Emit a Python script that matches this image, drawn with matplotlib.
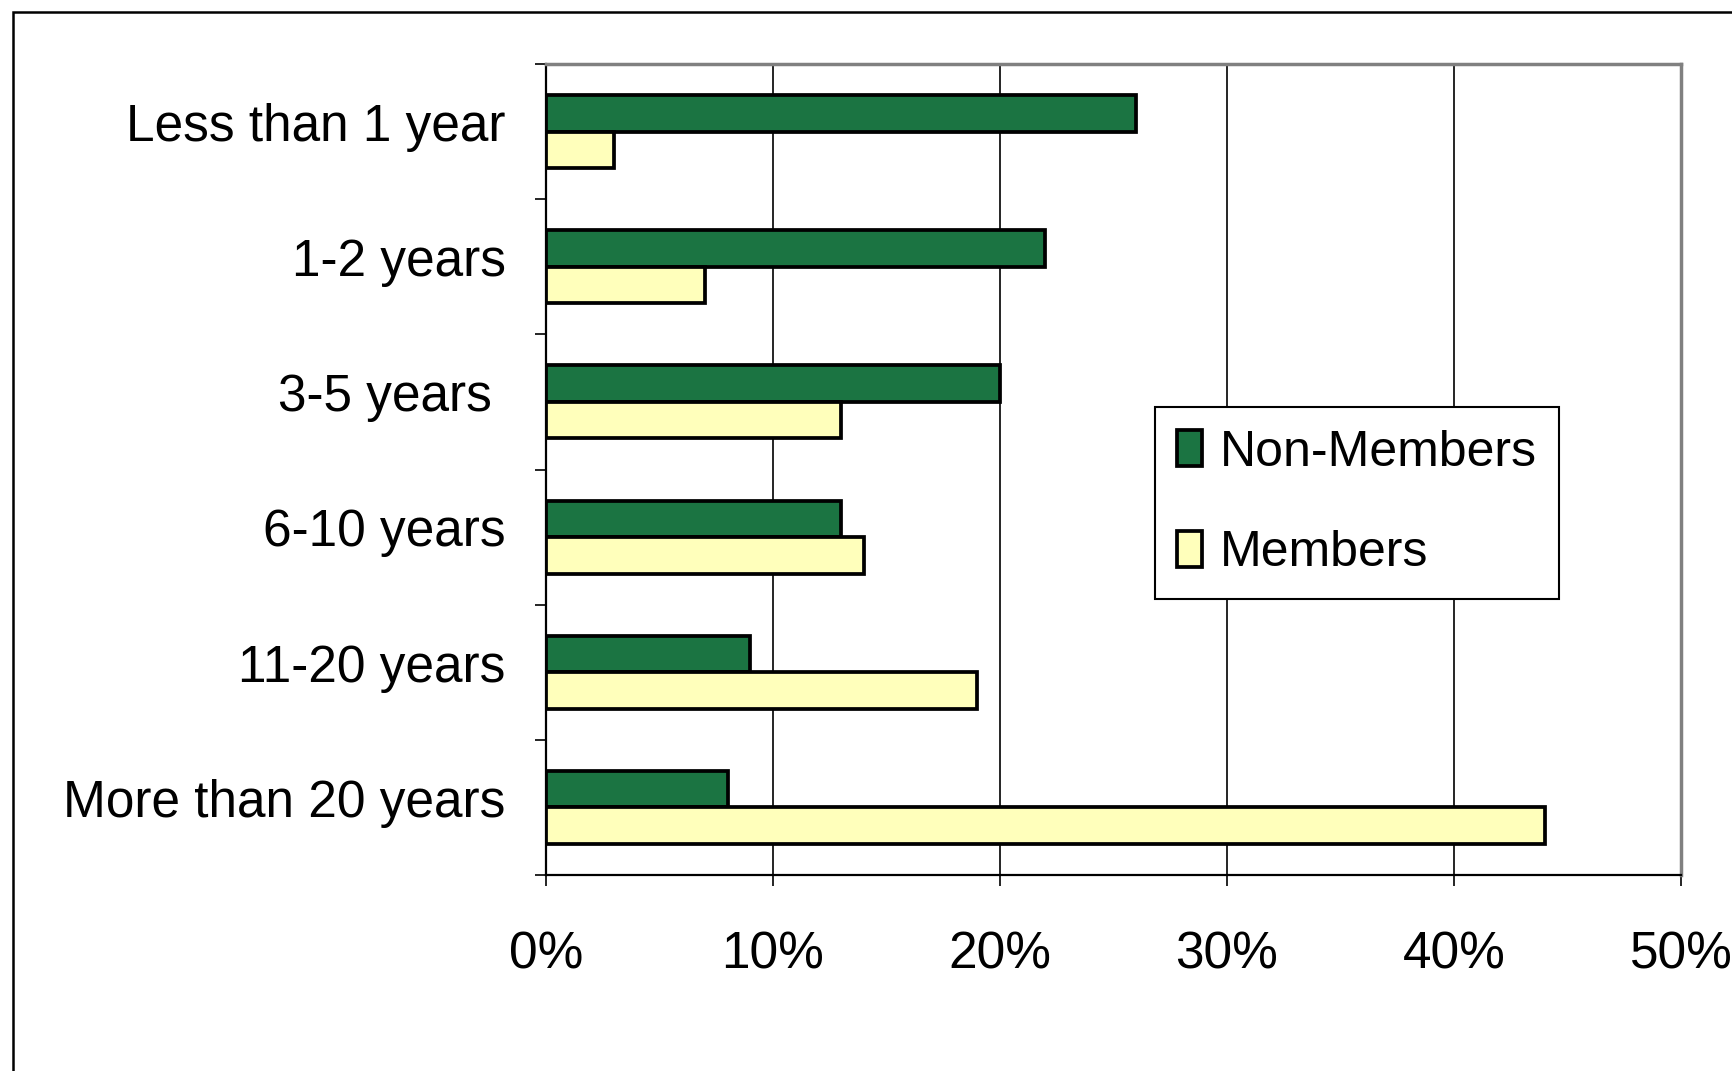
import matplotlib
matplotlib.use("Agg")
import matplotlib.pyplot as plt
from matplotlib.patches import Rectangle
from matplotlib.ticker import FixedLocator, PercentFormatter
from matplotlib.transforms import ScaledTranslation
import numpy as np

plt.rcParams['font.family'] = ['Liberation Sans', 'DejaVu Sans']

categories = ["Less than 1 year", "1-2 years", "3-5 years ", "6-10 years",
              "11-20 years", "More than 20 years"]
non_members = [26, 22, 20, 13, 9, 8]
members = [3, 7, 13, 14, 19, 44]
series_names = ["Non-Members", "Members"]
x_ticks = [0, 10, 20, 30, 40, 50]

GREEN = "#1b7442"
YELLOW = "#ffffbb"
FS = 37

fig = plt.figure(figsize=(17.33, 10.71), dpi=100)
ax = fig.add_axes([546 / 1733, 1 - 875 / 1071, (1681 - 546) / 1733, (875 - 64) / 1071])

# outer chart frame (runs off right/bottom edge)
fig.patches.append(Rectangle((13 / 1733, -0.05), 1.2, 1 - 12 / 1071 + 0.05,
                             transform=fig.transFigure, fill=False,
                             edgecolor="black", linewidth=1.8))

y = np.arange(len(categories))
h = 0.27
ax.barh(y - h / 2, non_members, height=h, color=GREEN, edgecolor="black",
        linewidth=2.7, label=series_names[0], zorder=3)
ax.barh(y + h / 2, members, height=h, color=YELLOW, edgecolor="black",
        linewidth=2.7, label=series_names[1], zorder=3)

ax.set_xlim(0, 50)
ax.set_ylim(len(categories) - 0.5, -0.5)
ax.set_xticks(x_ticks)
ax.xaxis.set_major_formatter(PercentFormatter(decimals=0))
ax.set_yticks(y)
ax.set_yticklabels(categories)
ax.yaxis.set_minor_locator(FixedLocator(np.arange(-0.5, len(categories), 1.0)))

ax.tick_params(axis="y", which="major", length=0, pad=29, labelsize=FS)
ax.tick_params(axis="y", which="minor", length=8, width=1.2, direction="out")
ax.tick_params(axis="x", which="major", length=8, width=1.2, direction="out",
               pad=32, labelsize=FS)

# category labels sit a little above the group centre
shift = ScaledTranslation(0, 7 / 72, fig.dpi_scale_trans)
for lab in ax.get_yticklabels():
    lab.set_transform(lab.get_transform() + shift)

ax.grid(axis="x", color="black", linewidth=1.2, zorder=0)
ax.set_axisbelow(True)

for s in ("left", "bottom"):
    ax.spines[s].set_color("black")
    ax.spines[s].set_linewidth(1.6)
for s in ("top", "right"):
    ax.spines[s].set_color("#808080")
    ax.spines[s].set_linewidth(2.5)

leg = ax.legend(loc="upper left", bbox_to_anchor=(1155 / 1733, 1 - 407 / 1071),
                bbox_transform=fig.transFigure, fontsize=36, frameon=True,
                fancybox=False, framealpha=1, edgecolor="black",
                handlelength=0.5, handleheight=0.75, handletextpad=0.35,
                labelspacing=1.1, borderpad=0.45, borderaxespad=0)
leg.get_frame().set_linewidth(1.5)

fig.savefig("out.png", dpi=100)
